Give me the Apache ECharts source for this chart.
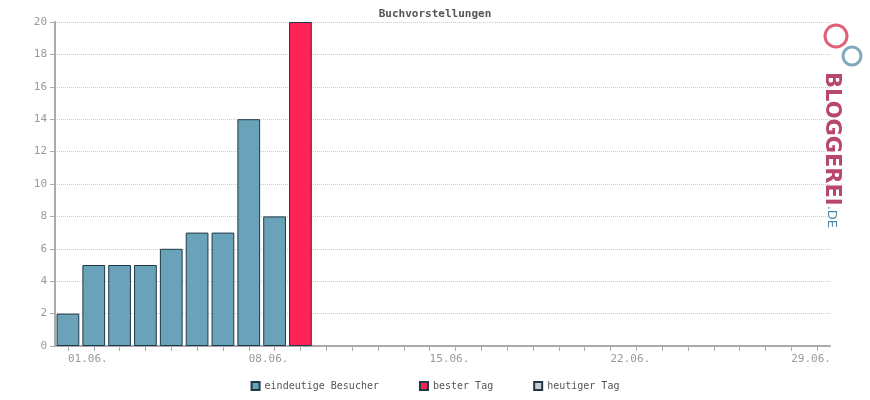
<!DOCTYPE html>
<html>
<head>
<meta charset="UTF-8">
<script src="https://cdn.jsdelivr.net/npm/echarts@6/dist/echarts.min.js"></script>
<style>html,body{margin:0;padding:0;background:#fff}#chartBox{width:870px;height:400px}</style>
</head>
<body>
<div id="chartBox"></div>
<script>
var days = [];
for (var d = 1; d <= 30; d++) days.push((d < 10 ? '0' : '') + d + '.06.');
var visitors = [2, 5, 5, 5, 6, 7, 7, 14, 8];
var bestDay = [null, null, null, null, null, null, null, null, null, 20];
var today = [];
var yTicks = [0, 2, 4, 6, 8, 10, 12, 14, 16, 18, 20];

var font = '"DejaVu Sans Mono", monospace';
var chartObj = echarts.init(document.getElementById('chartBox'));
var barStyle = function (c) { return {color: c, borderColor: '#1e3a48', borderWidth: 1}; };
chartObj.setOption({
    animation: false,
    title: {text: 'Buchvorstellungen', left: 'center', top: 4,
        textStyle: {fontFamily: font, fontSize: 11, color: '#555', fontWeight: 'bold'}},
    grid: {left: 55, right: 40, top: 22, bottom: 54},
    xAxis: {
        type: 'category', data: days,
        axisLine: {lineStyle: {color: '#aaa', width: 2}},
        axisTick: {show: true, interval: 0, alignWithLabel: true, lineStyle: {color: '#aaa'}},
        axisLabel: {interval: 6, color: '#999', fontFamily: font, fontSize: 11, align: 'left', margin: 8}
    },
    yAxis: {
        type: 'value', min: yTicks[0], max: yTicks[yTicks.length - 1], interval: 2,
        axisLine: {show: true, lineStyle: {color: '#aaa', width: 2}},
        axisTick: {show: true, lineStyle: {color: '#aaa'}},
        axisLabel: {color: '#999', fontFamily: font, fontSize: 11},
        splitLine: {lineStyle: {color: '#ccc', type: 'dotted'}}
    },
    legend: {
        bottom: 4, left: 'center', itemWidth: 8, itemHeight: 8, itemGap: 40,
        textStyle: {fontFamily: font, fontSize: 10, color: '#555'},
        data: [{name: 'eindeutige Besucher', icon: 'rect'}, {name: 'bester Tag', icon: 'rect'}, {name: 'heutiger Tag', icon: 'rect'}]
    },
    series: [
        {type: 'bar', name: 'eindeutige Besucher', stack: 'a', barWidth: '88%', data: visitors, itemStyle: barStyle('#6aa3b9')},
        {type: 'bar', name: 'bester Tag', stack: 'a', data: bestDay, itemStyle: barStyle('#ff2255')},
        {type: 'bar', name: 'heutiger Tag', stack: 'a', data: today, itemStyle: barStyle('#cccccc')}
    ],
    graphic: [{
        type: 'text', x: 842, y: 72, rotation: -Math.PI / 2,
        style: {
            text: '{a|BLOGGEREI}{b|.DE}',
            rich: {
                a: {font: 'bold 21px "DejaVu Sans"', fill: '#b8486a'},
                b: {font: '13px "DejaVu Sans"', fill: '#4f88a8'}
            }
        }
    }, {
        type: 'circle', shape: {cx: 836, cy: 36, r: 11}, style: {fill: 'none', stroke: '#e0607a', lineWidth: 3}
    }, {
        type: 'circle', shape: {cx: 852, cy: 56, r: 9}, style: {fill: 'none', stroke: '#7fa9bd', lineWidth: 3}
    }]
});
</script>
</body>
</html>
